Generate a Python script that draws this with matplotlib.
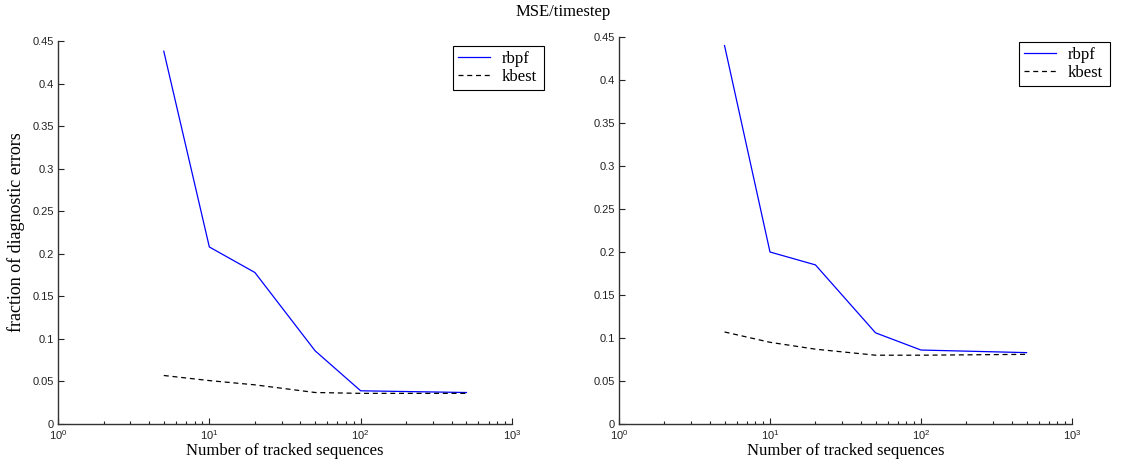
import matplotlib
matplotlib.use('Agg')
from matplotlib import pyplot as plt
from matplotlib.ticker import FuncFormatter, LogLocator, LogFormatterSciNotation, NullFormatter

plt.rcParams.update({
    'font.family': ['Liberation Sans', 'DejaVu Sans'],
    'mathtext.fontset': 'custom',
    'mathtext.rm': 'Liberation Sans',
    'mathtext.it': 'Liberation Sans',
    'font.size': 8,
})

# number of tracked sequences
n_tracked = [5, 10, 20, 50, 100, 500]

# left panel: fraction of diagnostic errors
left_rbpf = [0.438, 0.208, 0.178, 0.086, 0.039, 0.037]
left_kbest = [0.057, 0.051, 0.046, 0.037, 0.036, 0.036]

# right panel: MSE/timestep
right_rbpf = [0.440, 0.200, 0.185, 0.106, 0.086, 0.083]
right_kbest = [0.107, 0.095, 0.087, 0.080, 0.080, 0.081]

yticks = [0, 0.05, 0.1, 0.15, 0.2, 0.25, 0.3, 0.35, 0.4, 0.45]

serif = ['Liberation Serif', 'DejaVu Serif']


def style_axes(ax):
    ax.set_xscale('log')
    ax.set_xlim(1, 1000)
    ax.set_ylim(0, 0.45)
    ax.set_yticks(yticks)
    ax.yaxis.set_major_formatter(FuncFormatter(lambda v, p: '%g' % v))
    ax.xaxis.set_major_locator(LogLocator(base=10, numticks=10))
    ax.xaxis.set_minor_locator(LogLocator(base=10, subs=range(2, 10), numticks=10))
    ax.xaxis.set_major_formatter(LogFormatterSciNotation())
    ax.xaxis.set_minor_formatter(NullFormatter())
    for side in ('top', 'right'):
        ax.spines[side].set_visible(False)
    for side in ('left', 'bottom'):
        ax.spines[side].set_color('#333333')
        ax.spines[side].set_linewidth(1.0)
    ax.tick_params(which='both', direction='in', colors='#222222', labelsize=8, width=0.8)
    ax.tick_params(which='major', length=4, pad=3)
    ax.tick_params(which='minor', length=2.5)
    ax.set_xlabel('Number of tracked sequences', family=serif, fontsize=12, labelpad=1)


def draw_panel(ax, rbpf, kbest, box_px, ax_px):
    # box_px: legend box (left, top, right, bottom) in figure pixels
    # ax_px: axes (left, bottom, width, height) in figure pixels
    ax.plot(n_tracked, rbpf, color='#0000ff', lw=0.9, label='rbpf')
    ax.plot(n_tracked, kbest, color='black', lw=0.9, dashes=(4, 3), label='kbest')
    l, t, r, b = box_px
    axl, axb, axw, axh = ax_px
    anchor = ((l - axl) / axw, (axb - b) / axh, (r - l) / axw, (b - t) / axh)
    leg = ax.legend(loc='upper right', bbox_to_anchor=anchor, mode='expand',
                    prop={'family': serif, 'size': 12},
                    fancybox=False, framealpha=1, edgecolor='black', handlelength=1.9,
                    borderpad=0.3, labelspacing=0.1, handletextpad=0.7, borderaxespad=0)
    leg.get_frame().set_linewidth(0.8)


fig = plt.figure(figsize=(11.27, 4.68), dpi=100)
left_px = (58, 424, 454, 383)
right_px = (619, 424, 453, 387)
ax1 = fig.add_axes([58 / 1127, 1 - 424 / 468, 454 / 1127, 383 / 468])
ax2 = fig.add_axes([619 / 1127, 1 - 424 / 468, 453 / 1127, 387 / 468])

style_axes(ax1)
style_axes(ax2)

draw_panel(ax1, left_rbpf, left_kbest, (453, 46, 544, 88), left_px)
draw_panel(ax2, right_rbpf, right_kbest, (1019, 42, 1110, 84), right_px)

ax1.set_ylabel('fraction of diagnostic errors', family=serif, fontsize=13, labelpad=5)
fig.text(563 / 1127, 1 - 12 / 468, 'MSE/timestep', ha='center', va='center', family=serif, fontsize=12)

fig.savefig('out.png', dpi=100)
